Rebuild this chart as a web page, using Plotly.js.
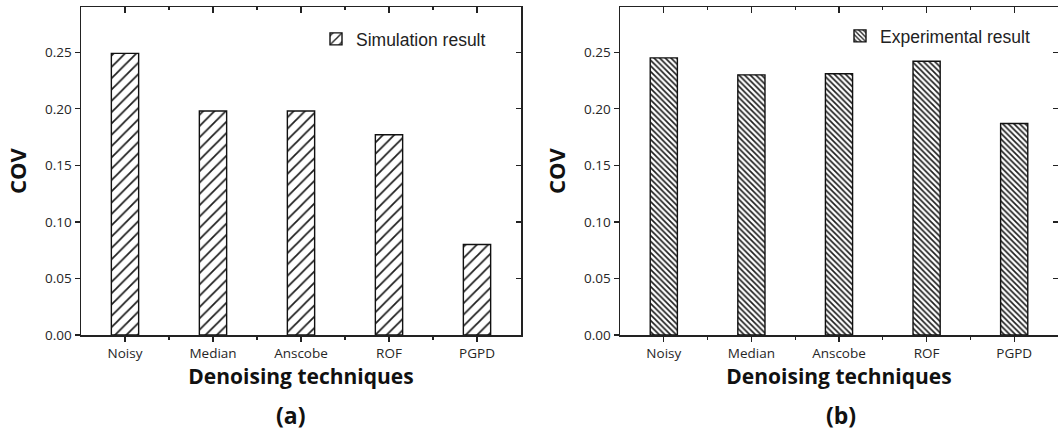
<!DOCTYPE html>
<html>
<head>
<meta charset="utf-8">
<script src="https://cdn.plot.ly/plotly-3.0.1.min.js"></script>
<style>
  html, body { margin: 0; padding: 0; background: #ffffff; }
  #chart { width: 1058px; height: 430px; }
</style>
</head>
<body>
<div id="chart"></div>
<script>
// ---- data ----
const categories = ['Noisy', 'Median', 'Anscobe', 'ROF', 'PGPD'];
const simulationCOV = [0.249, 0.198, 0.198, 0.177, 0.080];
const experimentalCOV = [0.245, 0.230, 0.231, 0.242, 0.187];
const yTickValues = [0, 0.05, 0.10, 0.15, 0.20, 0.25];
const yTickLabels = ['0.00', '0.05', '0.10', '0.15', '0.20', '0.25'];
const seriesNames = ['Simulation result', 'Experimental result'];
const panelLabels = ['(a)', '(b)'];
const xAxisTitle = 'Denoising techniques';
const yAxisTitle = 'COV';

// ---- derived positions on a numeric category scale ----
const xPos = categories.map((_, i) => i);
const xMinor = categories.slice(1).map((_, i) => i + 0.5);
const xRange = [-0.5, categories.length - 0.5];
const yRange = [0, 0.29];

const W = 1058, H = 430;
const tickFont = { family: 'Open Sans, sans-serif', size: 13.5, color: '#262626' };
const axisColor = '#222222';

function barTrace(values, name, xa, ya, legendId, pattern) {
  return {
    type: 'bar', x: xPos, y: values, name: name,
    xaxis: xa, yaxis: ya, legend: legendId,
    width: 0.31,
    marker: {
      color: '#ffffff',
      line: { color: '#111111', width: 1.4 },
      pattern: Object.assign({ fgcolor: '#1e1e1e', bgcolor: '#ffffff' }, pattern)
    },
    hoverinfo: 'x+y'
  };
}

const traces = [
  barTrace(simulationCOV, seriesNames[0], 'x', 'y', 'legend', { shape: '/', size: 8, solidity: 0.22 }),
  barTrace(experimentalCOV, seriesNames[1], 'x2', 'y2', 'legend2', { shape: '\\', size: 4, solidity: 0.42 }),
  // empty traces that carry the mirrored (inward) top / right tick axes
  { type: 'scatter', x: [], y: [], xaxis: 'x3', yaxis: 'y3', showlegend: false, hoverinfo: 'skip' },
  { type: 'scatter', x: [], y: [], xaxis: 'x4', yaxis: 'y4', showlegend: false, hoverinfo: 'skip' }
];

function bottomX(domain, anchor) {
  return {
    domain: domain, anchor: anchor, range: xRange, fixedrange: true,
    tickmode: 'array', tickvals: xPos, ticktext: categories,
    ticks: 'outside', ticklen: 5, tickwidth: 1.3, tickcolor: axisColor,
    minor: { tickmode: 'array', tickvals: xMinor, ticks: 'outside', ticklen: 3, tickwidth: 1.3, tickcolor: axisColor },
    showline: true, linecolor: axisColor, linewidth: 1.5,
    showgrid: false, zeroline: false,
    tickfont: tickFont,
    title: { text: xAxisTitle, standoff: 5,
      font: { family: 'Open Sans, sans-serif', size: 21, weight: 'bold', color: '#111111' } }
  };
}
function leftY(domain, anchor) {
  return {
    domain: domain, anchor: anchor, range: yRange, fixedrange: true,
    tickmode: 'array', tickvals: yTickValues, ticktext: yTickLabels,
    ticks: 'outside', ticklen: 5, tickwidth: 1.3, tickcolor: axisColor,
    showline: true, linecolor: axisColor, linewidth: 1.5,
    showgrid: false, zeroline: false,
    tickfont: tickFont,
    title: { text: yAxisTitle, standoff: 12,
      font: { family: 'Open Sans, sans-serif', size: 22, weight: 'bold', color: '#111111' } }
  };
}
function topX(overlay, anchor) {
  return {
    overlaying: overlay, anchor: anchor, side: 'top', range: xRange, fixedrange: true,
    tickmode: 'array', tickvals: xPos, ticks: 'inside', ticklen: 6, tickwidth: 1.3, tickcolor: axisColor,
    minor: { tickmode: 'array', tickvals: xMinor, ticks: 'inside', ticklen: 3, tickwidth: 1.3, tickcolor: axisColor },
    showticklabels: false, showline: true, linecolor: axisColor, linewidth: 1.5,
    showgrid: false, zeroline: false
  };
}
function rightY(overlay, anchor) {
  return {
    overlaying: overlay, anchor: anchor, side: 'right', range: yRange, fixedrange: true,
    tickmode: 'array', tickvals: yTickValues, ticks: 'inside', ticklen: 5, tickwidth: 1.3, tickcolor: axisColor,
    showticklabels: false, showline: true, linecolor: axisColor, linewidth: 1.5,
    showgrid: false, zeroline: false
  };
}

const yDomain = [1 - 335 / H, 1 - 7 / H];
const layout = {
  width: W, height: H,
  margin: { l: 0, r: 0, t: 0, b: 0 },
  paper_bgcolor: '#ffffff', plot_bgcolor: '#ffffff',
  showlegend: true,
  xaxis: bottomX([81 / W, 521 / W], 'y'),
  yaxis: leftY(yDomain, 'x'),
  xaxis2: bottomX([620 / W, 1], 'y2'),
  yaxis2: leftY(yDomain, 'x2'),
  xaxis3: topX('x', 'y3'),
  yaxis3: rightY('y', 'x3'),
  xaxis4: topX('x2', 'y4'),
  yaxis4: rightY('y2', 'x4'),
  legend: {
    x: 316 / W, y: 1 - 39 / H, xanchor: 'left', yanchor: 'middle',
    bgcolor: 'rgba(0,0,0,0)', borderwidth: 0,
    font: { family: 'Liberation Sans, Arial, sans-serif', size: 17.5, color: '#222222' }
  },
  legend2: {
    x: 840 / W, y: 1 - 36 / H, xanchor: 'left', yanchor: 'middle',
    bgcolor: 'rgba(0,0,0,0)', borderwidth: 0,
    font: { family: 'Liberation Sans, Arial, sans-serif', size: 17.5, color: '#222222' }
  },
  annotations: panelLabels.map((t, i) => ({
    text: t, xref: 'paper', yref: 'paper',
    x: [290 / W, 841 / W][i], y: 1 - 415 / H,
    xanchor: 'center', yanchor: 'middle', showarrow: false,
    font: { family: 'Open Sans, sans-serif', size: 23, weight: 'bold', color: '#111111' }
  }))
};

Plotly.newPlot('chart', traces, layout, { staticPlot: true, displayModeBar: false });
</script>
</body>
</html>
